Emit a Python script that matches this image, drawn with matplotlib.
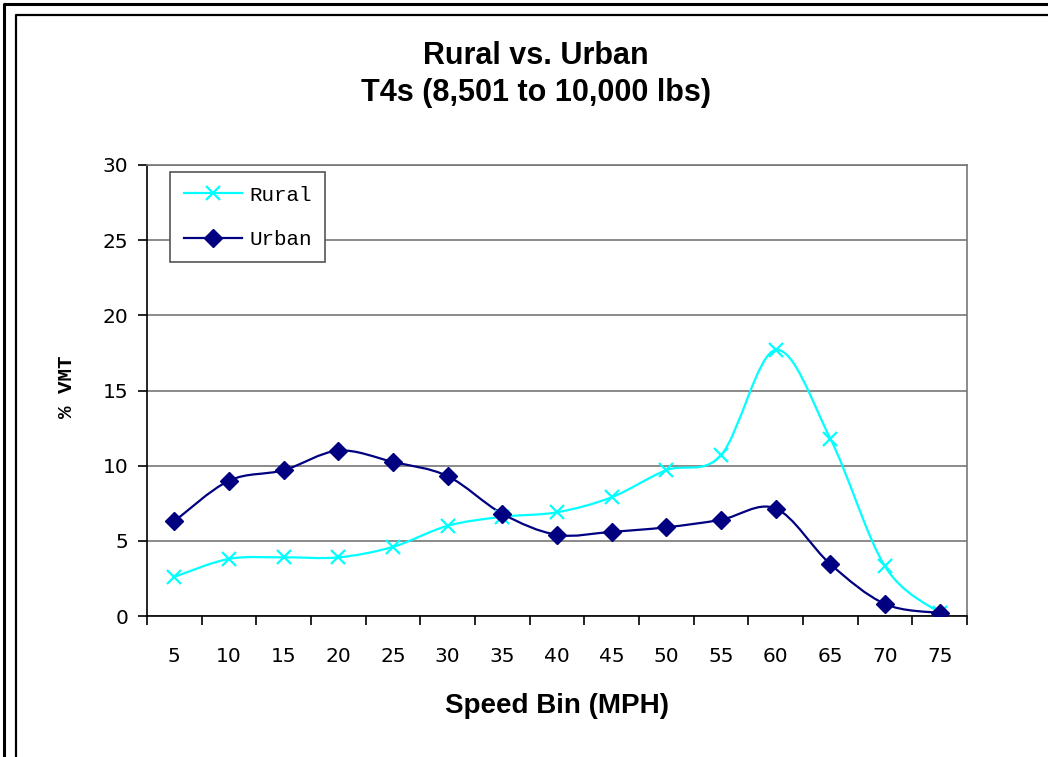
import numpy as np
import matplotlib
matplotlib.use("Agg")
import matplotlib.pyplot as plt
from matplotlib.path import Path
from matplotlib.patches import PathPatch
from matplotlib.lines import Line2D

speeds = ["5", "10", "15", "20", "25", "30", "35", "40", "45", "50", "55", "60", "65", "70", "75"]
rural = [2.6, 3.8, 3.9, 3.9, 4.6, 6.0, 6.6, 6.9, 7.9, 9.7, 10.7, 17.7, 11.8, 3.3, 0.2]
urban = [6.3, 9.0, 9.7, 11.0, 10.25, 9.3, 6.8, 5.4, 5.6, 5.9, 6.4, 7.15, 3.45, 0.8, 0.2]

RURAL_C = "#00FFFF"
URBAN_C = "#000080"
W, H = 1048, 757


def smooth_path(xs, ys):
    # Excel style smoothed line: cubic bezier through each point
    pts = np.column_stack([xs, ys]).astype(float)
    verts = [pts[0]]
    codes = [Path.MOVETO]
    n = len(pts)
    for i in range(n - 1):
        p0 = pts[i - 1] if i > 0 else pts[i]
        p1 = pts[i]
        p2 = pts[i + 1]
        p3 = pts[i + 2] if i + 2 < n else pts[i + 1]
        c1 = p1 + (p2 - p0) / 6.0
        c2 = p2 - (p3 - p1) / 6.0
        verts += [c1, c2, p2]
        codes += [Path.CURVE4] * 3
    return Path(verts, codes)


fig = plt.figure(figsize=(W / 100, H / 100), dpi=100)
ax = fig.add_axes([147 / W, 1 - 616 / H, 820 / W, 451 / H])

x = np.arange(len(speeds))
for vals, col in [(rural, RURAL_C), (urban, URBAN_C)]:
    ax.add_patch(PathPatch(smooth_path(x, vals), facecolor="none", edgecolor=col, lw=1.6, zorder=3))
ax.plot(x, rural, ls="none", marker="x", ms=10, mew=1.6, color=RURAL_C, zorder=4)
ax.plot(x, urban, ls="none", marker="D", ms=9.5, color=URBAN_C, zorder=4)

ax.set_xlim(-0.5, len(speeds) - 0.5)
ax.set_ylim(0, 30)
ax.set_yticks(range(0, 31, 5))
ax.yaxis.grid(True, color="#777777", lw=1.2)
ax.set_axisbelow(True)

# category labels centred, ticks on boundaries
ax.set_xticks(x)
ax.set_xticklabels(speeds)
ax.set_xticks(np.arange(-0.5, len(speeds), 1), minor=True)
ax.tick_params(axis="x", which="major", length=0, pad=22, labelsize=14.5)
ax.tick_params(axis="x", which="minor", length=6.5, width=1.2, direction="out")
ax.tick_params(axis="y", length=6.5, width=1.2, direction="out", pad=7, labelsize=14.5)
for lab in ax.get_xticklabels() + ax.get_yticklabels():
    lab.set_family("DejaVu Sans")

for side in ["top", "right"]:
    ax.spines[side].set_color("#777777")
    ax.spines[side].set_linewidth(1.2)
for side in ["left", "bottom"]:
    ax.spines[side].set_color("black")
    ax.spines[side].set_linewidth(1.2)

fig.text(557 / W, 1 - 706 / H, "Speed Bin (MPH)", ha="center", va="center",
         fontsize=20, fontweight="bold", family="Liberation Sans")
fig.text(66 / W, 1 - 387 / H, "% VMT", ha="center", va="center", rotation=90,
         fontsize=15, fontweight="bold", family="Liberation Mono")

fig.text(536 / W, 1 - 56 / H, "Rural vs. Urban", ha="center", va="center",
         fontsize=22, fontweight="bold", family="Liberation Sans")
fig.text(536 / W, 1 - 93 / H, "T4s (8,501 to 10,000 lbs)", ha="center", va="center",
         fontsize=22, fontweight="bold", family="Liberation Sans")

handles = [
    Line2D([], [], color=RURAL_C, marker="x", ms=10, mew=1.6, lw=1.6),
    Line2D([], [], color=URBAN_C, marker="D", ms=9.5, lw=1.6),
]
leg = ax.legend(handles, ["Rural", "Urban"], loc="upper left",
                bbox_to_anchor=((170 - 147) / 820, (616 - 172) / 451), borderaxespad=0,
                frameon=True, fancybox=False, framealpha=1, edgecolor="#555555",
                prop={"family": "Liberation Mono", "size": 15}, handlelength=2.8,
                borderpad=0.65, labelspacing=1.22, handletextpad=0.35)
leg.get_frame().set_linewidth(1.2)

# chart borders (outer and inner), cut off on right and bottom
fig.add_artist(Line2D([4 / W, 4 / W, 1.01], [-0.01, 1 - 4 / H, 1 - 4 / H],
                      transform=fig.transFigure, color="black", lw=2.2))
fig.add_artist(Line2D([16 / W, 16 / W, 1.01], [-0.01, 1 - 14.5 / H, 1 - 14.5 / H],
                      transform=fig.transFigure, color="black", lw=1.6))

fig.savefig("out.png", dpi=100)
